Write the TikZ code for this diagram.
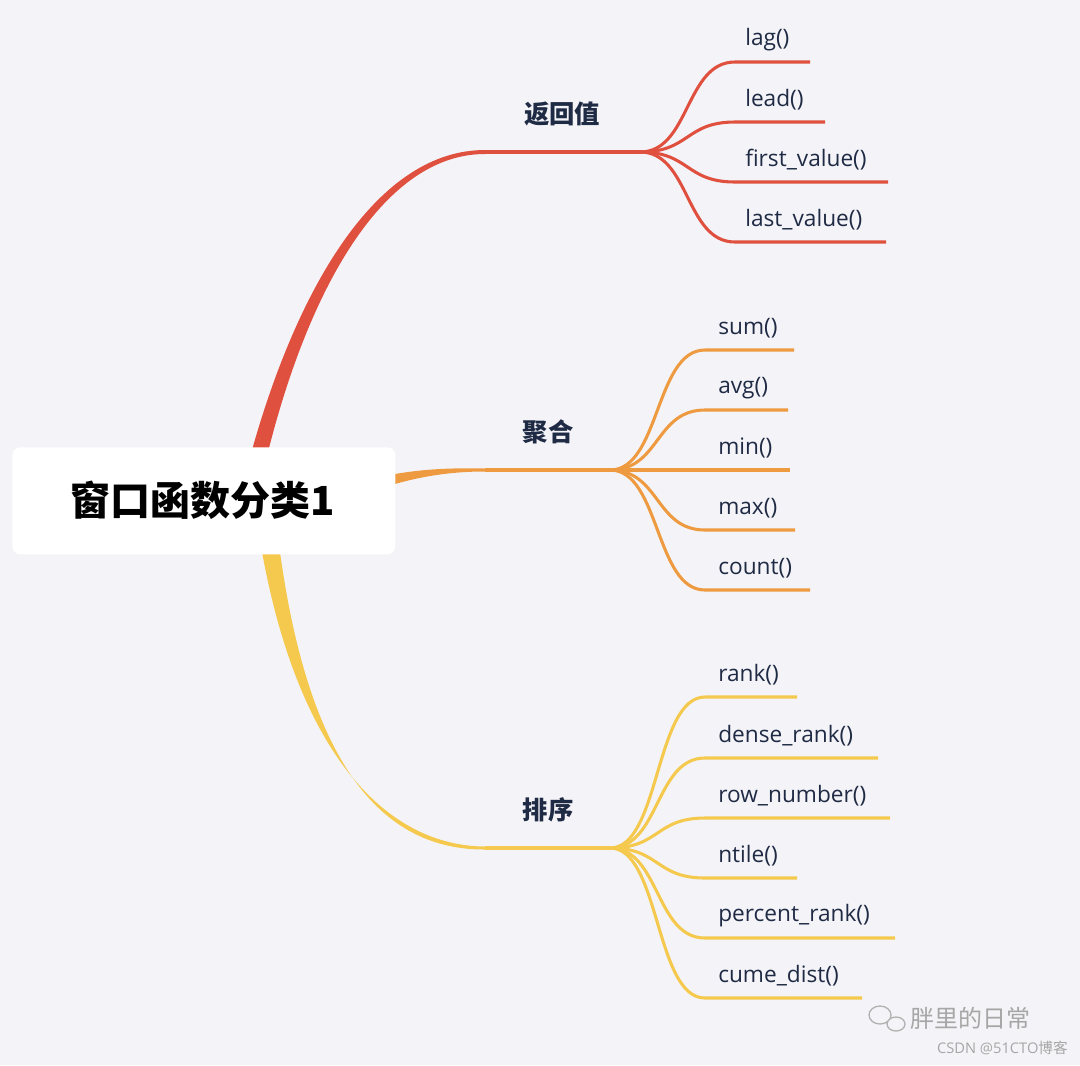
\documentclass[tikz,border=0pt]{standalone}
\usepackage{fontspec}
\setmainfont{Open Sans}
\newfontfamily\cjk{Noto Sans CJK SC}
\definecolor{bg}{HTML}{F4F4F8}
\definecolor{cr}{HTML}{E0503F}
\definecolor{co}{HTML}{EE9A40}
\definecolor{cy}{HTML}{F5C94E}
\definecolor{ink}{HTML}{1F2A44}
\tikzset{leaf/.style={anchor=west,inner sep=0pt,font=\fontsize{17}{19}\selectfont,text=ink},
 br/.style={inner sep=0pt,font=\cjk\bfseries\fontsize{19}{22}\selectfont,text=ink},
 lk/.style={line width=2.3pt}}
\begin{document}
\begin{tikzpicture}[x=0.75pt,y=-0.75pt]
\fill[bg] (0,0) rectangle (1080,1065);
\useasboundingbox (0,0) rectangle (1080,1065);
% main branches (tapered)
\fill[cr] (252,450) .. controls (300,280) and (380,150) .. (485,150) -- (485,154) .. controls (385,154) and (310,285) .. (268,452) -- cycle;
\fill[co] (395,474) .. controls (430,468) and (460,468) .. (485,468.5) -- (485,471.5) .. controls (460,471.5) and (430,474) .. (395,484) -- cycle;
\fill[cy] (262,552) .. controls (300,760) and (390,846) .. (485,846.5) -- (485,849.5) .. controls (385,850) and (310,770) .. (280,552) -- cycle;
\node[draw=none,fill=white,rounded corners=6pt,minimum width=383*0.75pt,minimum height=107*0.75pt,anchor=north west,inner sep=0pt] (root) at (12,447) {};
\node[font=\cjk\bfseries\fontsize{30}{34}\selectfont,text=black] (rt) at (203,500) {窗口函数分类1};
% hubs
\coordinate (hr) at (640,152); \coordinate (ho) at (610,470); \coordinate (hy) at (610,848);
\draw[cr,lk] (485,152) -- (hr); \draw[co,lk] (485,470) -- (ho); \draw[cy,lk] (485,848) -- (hy);
\node[br] (b1) at (562,114) {返回值};
\node[br] (b2) at (548,432) {聚合};
\node[br] (b3) at (548,810) {排序};
% leaves
\foreach \t/\y/\e [count=\i] in {lag()/62/810,lead()/122/825,first\_value()/182/888,last\_value()/242/886}{
 \draw[cr,lk] (hr) .. controls (690,152) and (685,\y) .. (735,\y) -- (\e,\y);
 \node[leaf] (r\i) at (745,\y-22) {\t};}
\foreach \t/\y/\e [count=\i] in {sum()/350/794,avg()/410/788,min()/470/790,max()/530/795,count()/590/810}{
 \draw[co,lk] (ho) .. controls (660,470) and (655,\y) .. (705,\y) -- (\e,\y);
 \node[leaf] (o\i) at (718,\y-22) {\t};}
\foreach \t/\y/\e [count=\i] in {rank()/697/797,dense\_rank()/758/878,row\_number()/818/890,ntile()/878/797,percent\_rank()/938/895,cume\_dist()/998/862}{
 \draw[cy,lk] (hy) .. controls (660,848) and (655,\y) .. (705,\y) -- (\e,\y);
 \node[leaf] (y\i) at (718,\y-22) {\t};}
% watermark
\node[font=\cjk\fontsize{18}{20}\selectfont,text=gray!70,anchor=west,inner sep=0pt] (wm) at (910,1018) {胖里的日常};
\draw[gray!60,line width=1pt] (880,1015) ellipse (11 and 9) (896,1024) ellipse (9 and 7);
\node[font=\fontsize{11}{12}\selectfont,text=gray!70,anchor=east,inner sep=0pt] (cs) at (1068,1048) {CSDN @51CTO{\cjk 博客}};
\end{tikzpicture}
\end{document}
